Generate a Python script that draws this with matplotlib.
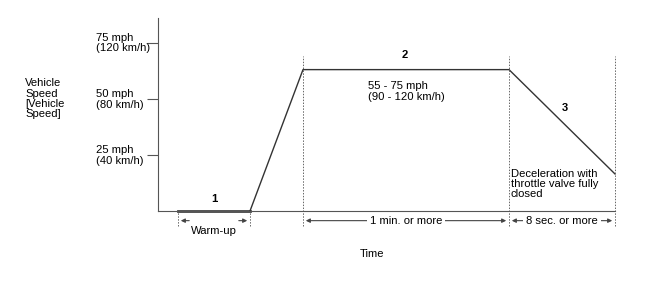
import matplotlib.pyplot as plt

plt.rcParams['font.family'] = ['Liberation Sans', 'DejaVu Sans']
plt.rcParams['text.color'] = '#000000'

# speed profile (time in arbitrary units, speed in mph)
time_pts = [20, 92, 145, 351, 457]
speed_pts = [0, 0, 63, 63, 16.5]

tick_vals = [25, 50, 75]
tick_labels = ['25 mph\n(40 km/h)', '50 mph\n(80 km/h)', '75 mph\n(120 km/h)']

phase_labels = ['1', '2', '3']
phase_pos = [(56, 5.5), (247, 69.5), (407, 46)]

FS = 8.1
LS = 1.08

fig = plt.figure(figsize=(6.55, 2.94), dpi=100)
ax = fig.add_axes([158 / 655, 83 / 294, 457 / 655, 193 / 294])
ax.set_xlim(0, 457)
ax.set_ylim(0, 86)

for s in ['top', 'right']:
    ax.spines[s].set_visible(False)
ax.spines['left'].set_color('#555555')
ax.spines['bottom'].set_color('#555555')
ax.set_xticks([])
ax.set_yticks(tick_vals)
ax.set_yticklabels([])
ax.tick_params(axis='y', length=8, color='#555555', direction='out')

for v, lab in zip(tick_vals, tick_labels):
    ax.text(-62, v - 0.2, lab, fontsize=FS, ha='left', va='center', linespacing=LS)

ax.text(-133, 50, 'Vehicle\nSpeed\n[Vehicle\nSpeed]', fontsize=FS, ha='left', va='center',
        linespacing=1.04)

# profile
ax.plot(time_pts[:2], speed_pts[:2], color='#444444', lw=2, clip_on=False)
ax.plot(time_pts[1:], speed_pts[1:], color='#333333', lw=1, clip_on=False)

# dashed guides
for t in time_pts[2:]:
    ax.plot([t, t], [-6.5, 69], color='#666666', lw=0.7, ls=(0, (1.5, 1.5)), clip_on=False)
for t in time_pts[:2]:
    ax.plot([t, t], [-6.5, 0], color='#666666', lw=0.7, ls=(0, (1.5, 1.5)), clip_on=False)

# warm-up span: short arrows at each end
a, b = time_pts[0], time_pts[1]
ax.annotate('', xy=(a, -4.3), xytext=(a + 14, -4.3),
            arrowprops=dict(arrowstyle='-|>', color='#444444', lw=0.8, mutation_scale=6),
            annotation_clip=False)
ax.annotate('', xy=(b, -4.3), xytext=(b - 14, -4.3),
            arrowprops=dict(arrowstyle='-|>', color='#444444', lw=0.8, mutation_scale=6),
            annotation_clip=False)
ax.text((a + b) / 2, -8.8, 'Warm-up', fontsize=FS, ha='center', va='center')

# long spans with full lines broken by text
for a, b, lab in [(time_pts[2], time_pts[3], '1 min. or more'),
                  (time_pts[3], time_pts[4], '8 sec. or more')]:
    ax.annotate('', xy=(a, -4.3), xytext=(b, -4.3),
                arrowprops=dict(arrowstyle='<|-|>', color='#444444', lw=0.8, mutation_scale=6),
                annotation_clip=False)
    ax.text((a + b) / 2, -4.6, lab, fontsize=FS, ha='center', va='center',
            bbox=dict(fc='white', ec='none', pad=2))

for lab, (x, y) in zip(phase_labels, phase_pos):
    ax.text(x, y, lab, fontsize=FS, ha='center', va='center', fontweight='bold')

ax.text(210, 53.3, '55 - 75 mph\n(90 - 120 km/h)', fontsize=FS, ha='left', va='center',
        linespacing=LS)
ax.text(353, 12, 'Deceleration with\nthrottle valve fully\nclosed', fontsize=FS, ha='left',
        va='center', linespacing=1.04)
ax.text(214, -19, 'Time', fontsize=FS, ha='center', va='center')

fig.savefig('out.png', dpi=100)
